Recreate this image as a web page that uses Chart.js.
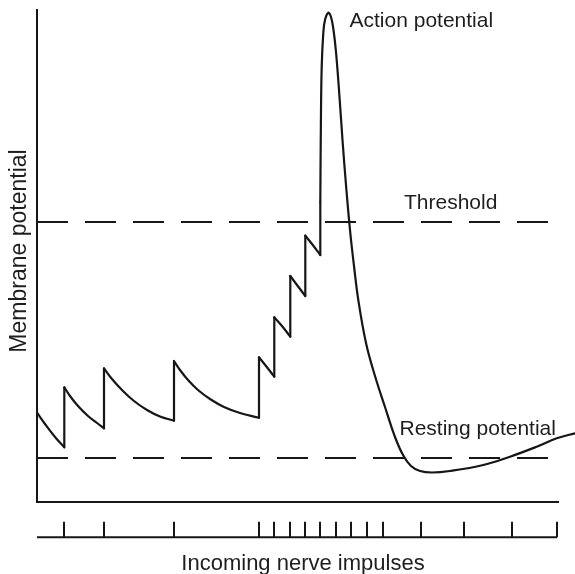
<!DOCTYPE html>
<html>
<head>
<meta charset="utf-8">
<script src="https://cdn.jsdelivr.net/npm/chart.js@4/dist/chart.umd.min.js"></script>
<style>
html, body { margin: 0; padding: 0; background: #fff; }
</style>
</head>
<body>
<canvas id="chart" width="575" height="574"></canvas>
<script>
// membrane potential trace (arbitrary units)
// a repeated time value is a jump caused by an impulse
const curveTime = [0, 8, 18, 27.3, 27.3, 33, 41, 51, 60, 67, 67, 75, 85, 97, 110, 123, 137,
	137, 143, 151, 161, 173, 187, 203, 222, 222, 229, 237.3, 237.3, 245, 253.3, 253.3, 260, 268.3,
	268.3, 275, 283.3, 283.3, 283.9, 284.7, 286.3, 288, 291.3, 294, 296.5, 299, 302, 305.5, 309,
	313, 317, 321.3, 329, 338, 348, 358, 366, 374, 383, 395, 413, 446.3, 473, 499.7, 519.7, 538];
const curvePotential = [89.3, 78, 65, 54.7, 114.7, 106, 96, 86, 79, 73.7, 133.7, 123, 112, 101, 92, 85.5, 81.3,
	141, 132, 122, 112, 103, 95, 89, 84.3, 144.7, 136, 125.3, 184.7, 176, 165.3, 226, 217, 206,
	266.3, 258, 247, 300, 380, 435, 469, 482, 489.3, 485, 472, 450, 412, 362, 317,
	272, 236, 202, 159, 126, 95, 65, 47, 36, 31, 29.5, 31, 37, 45.3, 55.3, 63.7, 68.7];

// incoming nerve impulses (times)
const impulseTimes = [27, 67, 137, 222, 237, 253, 268, 283, 299, 314, 330, 346, 384, 427, 475, 520];

const thresholdLevel = 280;
const restingLevel = 44;

const xMax = 521;
const yMax = 492;
const stripBase = -35.3;
const stripTop = -19.7;

const ink = '#161616';
const font = '"Liberation Sans", Arial, Helvetica, sans-serif';

// split the trace into smooth pieces and straight jumps
const trace = curveTime.map((t, i) => ({ x: t, y: curvePotential[i] }));
const pieces = [];
let run = [trace[0]];
for (let i = 1; i < trace.length; i++) {
	if (trace[i].x === trace[i - 1].x) {
		pieces.push({ data: run, tension: 0.4 });
		pieces.push({ data: [trace[i - 1], trace[i]], tension: 0 });
		run = [trace[i]];
	} else {
		run.push(trace[i]);
	}
}
pieces.push({ data: run, tension: 0.4 });

const traceSets = pieces.map(p => ({
	data: p.data,
	borderColor: ink,
	borderWidth: 2.2,
	borderCapStyle: 'round',
	pointRadius: 0,
	tension: p.tension,
	fill: false,
	clip: false,
}));

const tickMarks = [];
impulseTimes.forEach(t => {
	tickMarks.push({ x: t, y: stripBase }, { x: t, y: stripTop }, { x: t, y: null });
});

const textPlugin = {
	id: 'texts',
	afterDraw(chart) {
		const { ctx, scales: { y } } = chart;
		ctx.save();
		ctx.fillStyle = '#1e1e1e';
		ctx.textBaseline = 'alphabetic';
		ctx.textAlign = 'left';
		ctx.font = '21px ' + font;
		ctx.fillText('Action potential', 349.5, 26.7);
		ctx.fillText('Threshold', 404, y.getPixelForValue(thresholdLevel) - 13.5);
		ctx.fillText('Resting potential', 399.5, y.getPixelForValue(restingLevel) - 23);

		ctx.textAlign = 'center';
		ctx.font = '22px ' + font;
		ctx.fillText('Incoming nerve impulses', 303, 570);

		ctx.font = '23px ' + font;
		ctx.translate(26, 251);
		ctx.rotate(-Math.PI / 2);
		ctx.fillText('Membrane potential', 0, 0);
		ctx.restore();
	}
};

function chartIt() {
	const ctx = document.getElementById('chart').getContext('2d');
	const myChart = new Chart(ctx, {
		type: 'line',
		data: {
			datasets: [
				...traceSets,
				{
					label: 'Threshold',
					data: [{ x: 0, y: thresholdLevel }, { x: 512, y: thresholdLevel }],
					borderColor: ink,
					borderWidth: 2,
					borderDash: [31, 17],
					pointRadius: 0,
				},
				{
					label: 'Resting potential',
					data: [{ x: 0, y: restingLevel }, { x: 512, y: restingLevel }],
					borderColor: ink,
					borderWidth: 2,
					borderDash: [31, 17],
					pointRadius: 0,
				},
				{
					label: 'Impulse baseline',
					data: [{ x: 0, y: stripBase }, { x: impulseTimes[impulseTimes.length - 1], y: stripBase }],
					borderColor: ink,
					borderWidth: 2,
					pointRadius: 0,
					clip: false,
				},
				{
					label: 'Impulses',
					data: tickMarks,
					borderColor: ink,
					borderWidth: 2,
					pointRadius: 0,
					spanGaps: false,
					clip: false,
				},
			],
		},
		options: {
			responsive: false,
			animation: false,
			layout: { padding: { left: 37, right: 17, top: 10, bottom: 72 } },
			plugins: { legend: { display: false }, tooltip: { enabled: false } },
			scales: {
				x: {
					type: 'linear',
					min: 0,
					max: xMax,
					grid: { display: false, drawTicks: false },
					ticks: { display: false },
					border: { display: true, color: ink, width: 2 },
				},
				y: {
					type: 'linear',
					min: 0,
					max: yMax,
					grid: { display: false, drawTicks: false },
					ticks: { display: false },
					border: { display: true, color: ink, width: 2 },
				},
			},
		},
		plugins: [textPlugin],
	});
}

chartIt();
</script>
</body>
</html>
